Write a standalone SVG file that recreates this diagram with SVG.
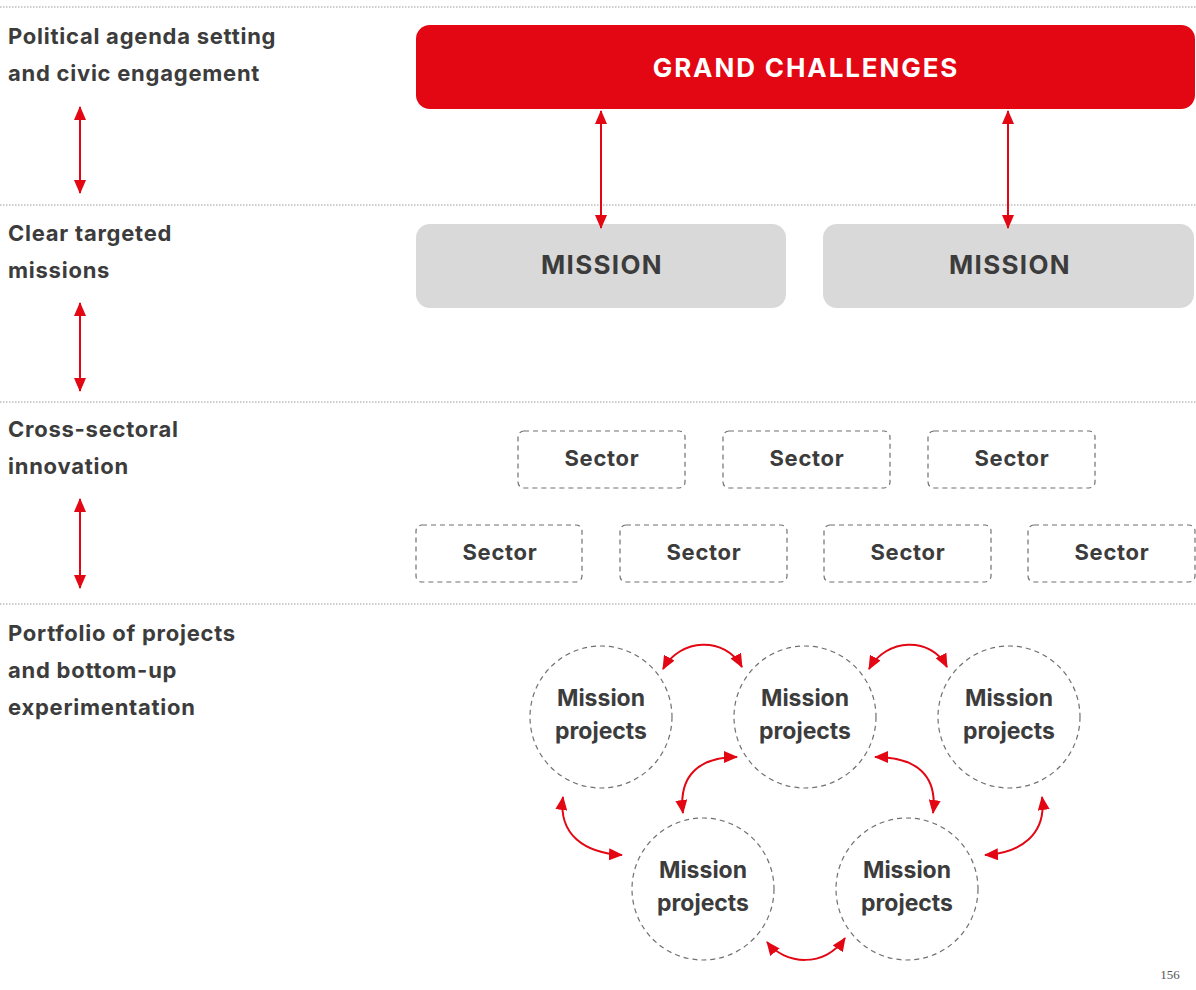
<svg xmlns="http://www.w3.org/2000/svg" width="1196" height="990" viewBox="0 0 1196 990">
<defs>
<marker id="ah" viewBox="0 0 14 12" refX="13" refY="6" markerWidth="14" markerHeight="12" markerUnits="userSpaceOnUse" orient="auto-start-reverse">
<path d="M0,0 L14,6 L0,12 Z" fill="#e30613"/>
</marker>
<style>
.sep{stroke:#9a9a9a;stroke-width:1;stroke-dasharray:1.5 1.5;fill:none}
.lbl{font-family:Inter,"Liberation Sans",sans-serif;font-weight:700;font-size:22px;letter-spacing:0.75px;fill:#3c3c3c}
.arr{stroke:#e30613;stroke-width:2;fill:none;marker-start:url(#ah);marker-end:url(#ah)}
.sec{fill:#fff;stroke:#707070;stroke-width:1.2;stroke-dasharray:5 4}
.sect{font-family:Inter,"Liberation Sans",sans-serif;font-weight:700;font-size:22px;letter-spacing:0.7px;fill:#3c3c3c;text-anchor:middle}
.circ{fill:#fff;stroke:#707070;stroke-width:1.2;stroke-dasharray:5 4}
.mp{font-family:Inter,"Liberation Sans",sans-serif;font-weight:700;font-size:23px;fill:#3c3c3c;text-anchor:middle}
.mis{fill:#d9d9d9}
.mist{font-family:Inter,"Liberation Sans",sans-serif;font-weight:700;font-size:26px;letter-spacing:1.3px;fill:#3c3c3c;text-anchor:middle}
</style>
</defs>
<rect width="1196" height="990" fill="#fff"/>
<g id="separators">
<line class="sep" x1="0" y1="7" x2="1196" y2="7"/>
<line class="sep" x1="0" y1="205" x2="1196" y2="205"/>
<line class="sep" x1="0" y1="402" x2="1196" y2="402"/>
<line class="sep" x1="0" y1="604" x2="1196" y2="604"/>
</g>
<g id="labels">
<text class="lbl" x="8" y="44">Political agenda setting</text>
<text class="lbl" x="8" y="81">and civic engagement</text>
<text class="lbl" x="8" y="241">Clear targeted</text>
<text class="lbl" x="8" y="278">missions</text>
<text class="lbl" x="8" y="437">Cross-sectoral</text>
<text class="lbl" x="8" y="474">innovation</text>
<text class="lbl" x="8" y="641">Portfolio of projects</text>
<text class="lbl" x="8" y="678">and bottom-up</text>
<text class="lbl" x="8" y="715">experimentation</text>
</g>
<g id="grand-challenges">
<rect x="416" y="25" width="779" height="84" rx="14" fill="#e30613"/>
<text x="806" y="77" font-family="Inter,'Liberation Sans',sans-serif" font-weight="700" font-size="26" letter-spacing="1.9" fill="#fff" text-anchor="middle">GRAND CHALLENGES</text>
</g>
<g id="mission-1">
<rect class="mis" x="416" y="224" width="370" height="84" rx="14"/>
<text class="mist" x="602" y="274">MISSION</text>
</g>
<g id="mission-2">
<rect class="mis" x="823" y="224" width="371" height="84" rx="14"/>
<text class="mist" x="1010" y="274">MISSION</text>
</g>
<g id="sector-1"><rect class="sec" x="518" y="431" width="167" height="57" rx="6"/><text class="sect" x="602" y="466">Sector</text></g>
<g id="sector-2"><rect class="sec" x="723" y="431" width="167" height="57" rx="6"/><text class="sect" x="807" y="466">Sector</text></g>
<g id="sector-3"><rect class="sec" x="928" y="431" width="167" height="57" rx="6"/><text class="sect" x="1012" y="466">Sector</text></g>
<g id="sector-4"><rect class="sec" x="416" y="525" width="166" height="57" rx="6"/><text class="sect" x="500" y="560">Sector</text></g>
<g id="sector-5"><rect class="sec" x="620" y="525" width="167" height="57" rx="6"/><text class="sect" x="704" y="560">Sector</text></g>
<g id="sector-6"><rect class="sec" x="824" y="525" width="167" height="57" rx="6"/><text class="sect" x="908" y="560">Sector</text></g>
<g id="sector-7"><rect class="sec" x="1028" y="525" width="167" height="57" rx="6"/><text class="sect" x="1112" y="560">Sector</text></g>
<g id="project-1"><circle class="circ" cx="601" cy="717" r="71"/><text class="mp" x="601" y="706">Mission</text><text class="mp" x="601" y="739">projects</text></g>
<g id="project-2"><circle class="circ" cx="805" cy="717" r="71"/><text class="mp" x="805" y="706">Mission</text><text class="mp" x="805" y="739">projects</text></g>
<g id="project-3"><circle class="circ" cx="1009" cy="717" r="71"/><text class="mp" x="1009" y="706">Mission</text><text class="mp" x="1009" y="739">projects</text></g>
<g id="project-4"><circle class="circ" cx="703" cy="889" r="71"/><text class="mp" x="703" y="878">Mission</text><text class="mp" x="703" y="911">projects</text></g>
<g id="project-5"><circle class="circ" cx="907" cy="889" r="71"/><text class="mp" x="907" y="878">Mission</text><text class="mp" x="907" y="911">projects</text></g>
<g id="connectors">
<line class="arr" x1="80" y1="107" x2="80" y2="193"/>
<line class="arr" x1="80" y1="303" x2="80" y2="391"/>
<line class="arr" x1="80" y1="499" x2="80" y2="588"/>
<line class="arr" x1="601" y1="111" x2="601" y2="228"/>
<line class="arr" x1="1008" y1="111" x2="1008" y2="228"/>
<path class="arr" d="M663,669 C680,638 725,636 742,667"/>
<path class="arr" d="M869,669 C886,638 931,636 947,667"/>
<path class="arr" d="M683,813 C678,775 700,757 737,757"/>
<path class="arr" d="M933,813 C938,775 916,757 875,757"/>
<path class="arr" d="M563,797 C558,835 585,853 622,855"/>
<path class="arr" d="M1042,797 C1047,835 1020,853 985,855"/>
<path class="arr" d="M767,942 C785,965 825,968 845,938"/>
</g>
<text x="1170" y="979" font-family="'Liberation Serif',serif" font-size="13" fill="#555" text-anchor="middle">156</text>
</svg>
